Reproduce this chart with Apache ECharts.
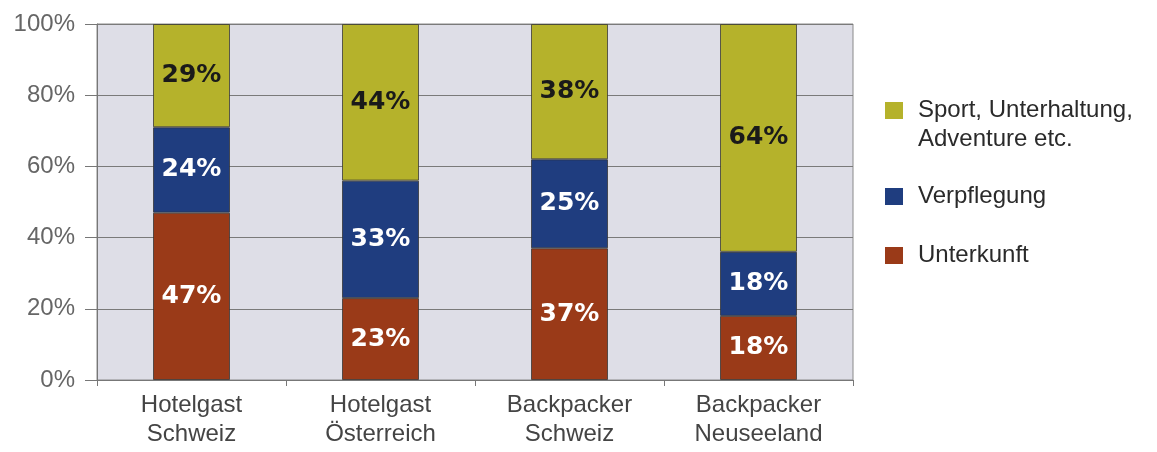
<!DOCTYPE html>
<html>
<head>
<meta charset="utf-8">
<script src="https://cdn.jsdelivr.net/npm/echarts@6/dist/echarts.min.js"></script>
<style>
html,body{margin:0;padding:0;background:#fff;}
#chart{width:1157px;height:452px;}
</style>
</head>
<body>
<div id="chart"></div>
<script>
const categories = ['Hotelgast\nSchweiz', 'Hotelgast\nÖsterreich', 'Backpacker\nSchweiz', 'Backpacker\nNeuseeland'];
const unterkunft = [47, 23, 37, 18];
const verpflegung = [24, 33, 25, 18];
const sport = [29, 44, 38, 64];
const yTicks = [0, 20, 40, 60, 80, 100];

const NAME_SPORT = 'Sport, Unterhaltung, Adventure etc.';
const NAME_VERPF = 'Verpflegung';
const NAME_UNTER = 'Unterkunft';

const colors = { sport: '#b5b22b', verpf: '#1f3d7f', unter: '#9a3a18' };

const chart = echarts.init(document.getElementById('chart'));

function labelCfg(color) {
  return {
    show: true,
    position: 'inside',
    formatter: p => p.value + '%',
    color: color,
    fontFamily: 'DejaVu Sans',
    fontWeight: 'bold',
    fontSize: 25
  };
}
const barStyle = c => ({ color: c, borderColor: 'rgba(50,50,50,0.75)', borderWidth: 1 });

function legendItem(name, top, extra) {
  return Object.assign({
    data: [name],
    left: 885,
    top: top,
    padding: 0,
    itemWidth: 18,
    itemHeight: 17,
    icon: 'rect',
    selectedMode: false,
    itemStyle: { borderWidth: 0 },
    textStyle: {
      fontFamily: 'Liberation Sans',
      fontSize: 24,
      color: '#2a2a2a',
      lineHeight: 29,
      padding: [0, 0, 0, 10]
    }
  }, extra || {});
}

chart.setOption({
  animation: false,
  backgroundColor: '#fff',
  grid: {
    left: 97, right: 304, top: 24, bottom: 72,
    show: true, backgroundColor: '#dedee7', borderColor: '#8a8a8a', borderWidth: 1
  },
  legend: [
    legendItem(NAME_SPORT, 67, {
      formatter: () => '\nSport, Unterhaltung,\nAdventure etc.'
    }),
    legendItem(NAME_VERPF, 182),
    legendItem(NAME_UNTER, 241)
  ],
  xAxis: {
    type: 'category',
    data: categories,
    axisLine: { lineStyle: { color: '#777', width: 1 } },
    axisTick: { show: true, length: 6, lineStyle: { color: '#777' } },
    axisLabel: {
      fontFamily: 'Liberation Sans', fontSize: 24, color: '#444',
      lineHeight: 29, margin: 11
    }
  },
  yAxis: {
    type: 'value',
    min: 0, max: 100, interval: 20,
    axisLine: { show: true, lineStyle: { color: '#777' } },
    axisTick: { show: true, length: 12, lineStyle: { color: '#777' } },
    splitLine: { show: true, lineStyle: { color: '#7a7a7a', width: 1 } },
    axisLabel: {
      formatter: v => yTicks.includes(v) ? v + '%' : '',
      fontFamily: 'Liberation Sans', fontSize: 24, color: '#666', margin: 22
    }
  },
  series: [
    { name: NAME_UNTER, type: 'bar', stack: 'a', barWidth: 77, data: unterkunft,
      itemStyle: barStyle(colors.unter), label: labelCfg('#fff') },
    { name: NAME_VERPF, type: 'bar', stack: 'a', barWidth: 77, data: verpflegung,
      itemStyle: barStyle(colors.verpf), label: labelCfg('#fff') },
    { name: NAME_SPORT, type: 'bar', stack: 'a', barWidth: 77, data: sport,
      itemStyle: barStyle(colors.sport), label: labelCfg('#1a1a1a') }
  ]
});
</script>
</body>
</html>
